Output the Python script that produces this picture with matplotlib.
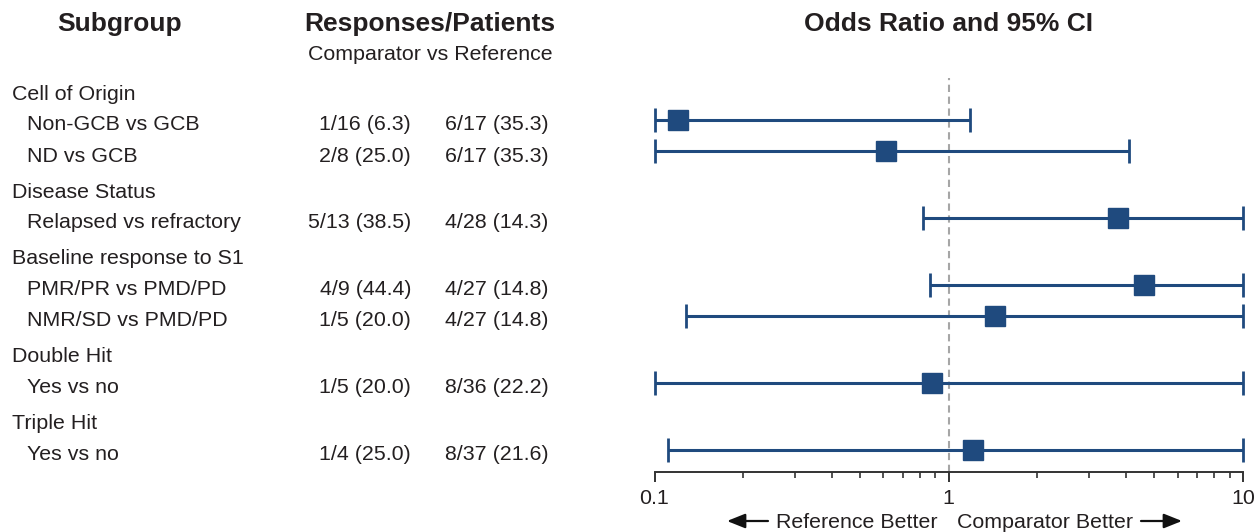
import matplotlib
matplotlib.use("Agg")
import matplotlib.pyplot as plt
import matplotlib.transforms as mtransforms
from matplotlib.ticker import FixedLocator, NullFormatter, FixedFormatter
import numpy as np

plt.rcParams['font.family'] = ['Liberation Sans', 'DejaVu Sans']

# ---------------- data ----------------
group_headers = ['Cell of Origin', 'Disease Status', 'Baseline response to S1',
                 'Double Hit', 'Triple Hit']
item_group = [0, 0, 1, 2, 2, 3, 4]
subgroups = ['Non-GCB vs GCB', 'ND vs GCB', 'Relapsed vs refractory',
             'PMR/PR vs PMD/PD', 'NMR/SD vs PMD/PD', 'Yes vs no', 'Yes vs no']
comparator = ['1/16 (6.3)', '2/8 (25.0)', '5/13 (38.5)', '4/9 (44.4)',
              '1/5 (20.0)', '1/5 (20.0)', '1/4 (25.0)']
reference = ['6/17 (35.3)', '6/17 (35.3)', '4/28 (14.3)', '4/27 (14.8)',
             '4/27 (14.8)', '8/36 (22.2)', '8/37 (21.6)']
odds_ratio = [0.12, 0.61, 3.75, 4.6, 1.44, 0.88, 1.21]
ci_low = [0.10, 0.10, 0.82, 0.865, 0.128, 0.10, 0.111]
ci_high = [1.18, 4.11, 10.0, 10.0, 10.0, 10.0, 10.0]
x_ticks = [0.1, 1, 10]
x_ticklabels = ['0.1', '1', '10']

# ---------------- layout ----------------
W, H = 1260, 532
TXT = '#231f20'
BLUE = '#1f4a7e'

fig = plt.figure(figsize=(W / 100, H / 100), dpi=100)
ax_left, ax_right, ax_top, ax_bot = 654.5, 1243, 78, 472
ax = fig.add_axes([ax_left / W, 1 - ax_bot / H, (ax_right - ax_left) / W,
                   (ax_bot - ax_top) / H])
ax.set_xscale('log')
ax.set_xlim(0.1, 10)
ax.set_ylim(ax_bot, ax_top)  # row units equal pixels from top

# row positions (layout): step per row with an extra gap before each new group
row_step, group_gap, first_row = 31, 5, 92
rows = []  # (kind, index, y)
k = 0
for g, head in enumerate(group_headers):
    rows.append(('h', g, first_row + row_step * k + group_gap * g))
    k += 1
    for i, ig in enumerate(item_group):
        if ig == g:
            rows.append(('i', i, first_row + row_step * k + group_gap * g))
            k += 1

item_y = np.zeros(len(subgroups))
for kind, idx, y in rows:
    if kind == 'i':
        item_y[idx] = y

blend = mtransforms.blended_transform_factory(fig.transFigure, ax.transData)
base_off = 7.5  # baseline below cap centre
fs = 15.4
for kind, idx, y in rows:
    if kind == 'h':
        ax.text(12 / W, y + base_off, group_headers[idx], transform=blend,
                fontsize=fs, color=TXT, va='baseline', ha='left')
    else:
        ax.text(27 / W, y + base_off, subgroups[idx], transform=blend,
                fontsize=fs, color=TXT, va='baseline', ha='left')
        ax.text(411 / W, y + base_off, comparator[idx], transform=blend,
                fontsize=fs, color=TXT, va='baseline', ha='right')
        ax.text(445 / W, y + base_off, reference[idx], transform=blend,
                fontsize=fs, color=TXT, va='baseline', ha='left')

# forest plot
orr = np.array(odds_ratio)
lo = np.array(ci_low)
hi = np.array(ci_high)
mark_y = item_y - 3
ax.axvline(1, color='#a6a6a6', lw=1.5, ls=(0, (3.5, 2.2)), zorder=1)
eb = ax.errorbar(orr, mark_y, xerr=[orr - lo, hi - orr], fmt='s', color=BLUE,
                 ms=13.7, mec=BLUE, mfc=BLUE, elinewidth=2.2, capsize=8.3,
                 capthick=2.0, zorder=3)
for artist in eb.lines[1] + eb.lines[2] + (eb.lines[0],):
    artist.set_clip_on(False)

for s in ['top', 'right', 'left']:
    ax.spines[s].set_visible(False)
ax.spines['bottom'].set_color('#333333')
ax.spines['bottom'].set_linewidth(1.4)
ax.set_yticks([])
ax.xaxis.set_major_locator(FixedLocator(x_ticks))
ax.xaxis.set_major_formatter(FixedFormatter(x_ticklabels))
minors = [m * d for d in (0.1, 1) for m in range(2, 10)]
ax.xaxis.set_minor_locator(FixedLocator(minors))
ax.xaxis.set_minor_formatter(NullFormatter())
ax.tick_params(axis='x', which='major', length=7, width=1.4, color='#333333',
               labelsize=fs, labelcolor=TXT, pad=5)
ax.tick_params(axis='x', which='minor', length=4.5, width=1.2, color='#333333')

# headers
def ft(x, y, s, **kw):
    fig.text(x / W, 1 - y / H, s, color=TXT, **kw)

ft(120, 31, 'Subgroup', fontsize=19, fontweight='bold', ha='center', va='baseline')
ft(430, 31, 'Responses/Patients', fontsize=19, fontweight='bold', ha='center', va='baseline')
ft(430, 59.5, 'Comparator vs Reference', fontsize=fs, ha='center', va='baseline')
ft(949, 31, 'Odds Ratio and 95% CI', fontsize=19, fontweight='bold', ha='center', va='baseline')

# direction labels
ft(937, 528, 'Reference Better', fontsize=fs, ha='right', va='baseline')
ft(957, 528, 'Comparator Better', fontsize=fs, ha='left', va='baseline')
arrow_kw = dict(arrowstyle='-|>,head_length=0.55,head_width=0.22', color='#111111',
                lw=1.6, mutation_scale=20, shrinkA=0, shrinkB=0)
fig.patches.append(matplotlib.patches.FancyArrowPatch(
    (768 / W, 1 - 521 / H), (727 / W, 1 - 521 / H), transform=fig.transFigure, **arrow_kw))
fig.patches.append(matplotlib.patches.FancyArrowPatch(
    (1141 / W, 1 - 521 / H), (1182 / W, 1 - 521 / H), transform=fig.transFigure, **arrow_kw))

fig.savefig('out.png', dpi=100, facecolor='white')
